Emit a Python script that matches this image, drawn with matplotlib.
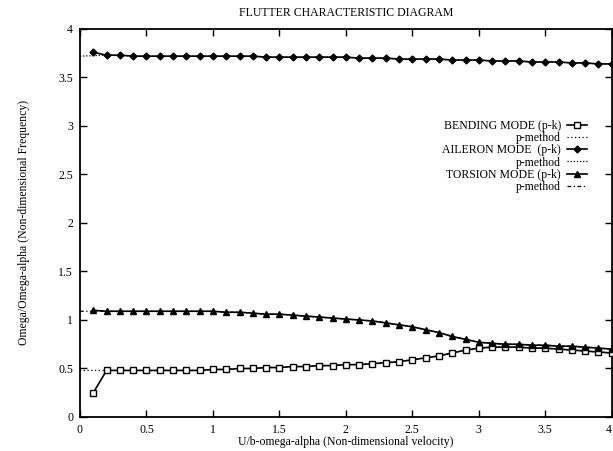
import matplotlib.pyplot as plt
from matplotlib.lines import Line2D

plt.rcParams['font.family'] = ['Liberation Serif', 'DejaVu Serif']

# velocidade adimensional U/(b*omega_alpha)
velocidade = [0.1, 0.2, 0.3, 0.4, 0.5, 0.6, 0.7, 0.8, 0.9, 1.0,
              1.1, 1.2, 1.3, 1.4, 1.5, 1.6, 1.7, 1.8, 1.9, 2.0,
              2.1, 2.2, 2.3, 2.4, 2.5, 2.6, 2.7, 2.8, 2.9, 3.0,
              3.1, 3.2, 3.3, 3.4, 3.5, 3.6, 3.7, 3.8, 3.9, 4.0]

# metodo p-k
flexao = [0.25, 0.48, 0.48, 0.48, 0.48, 0.48, 0.48, 0.48, 0.48, 0.49,
          0.49, 0.50, 0.50, 0.51, 0.51, 0.52, 0.52, 0.53, 0.53, 0.54,
          0.54, 0.55, 0.56, 0.57, 0.59, 0.61, 0.63, 0.66, 0.69, 0.71,
          0.72, 0.72, 0.72, 0.71, 0.71, 0.70, 0.69, 0.68, 0.67, 0.66]
aileron = [3.76, 3.73, 3.73, 3.72, 3.72, 3.72, 3.72, 3.72, 3.72, 3.72,
           3.72, 3.72, 3.72, 3.71, 3.71, 3.71, 3.71, 3.71, 3.71, 3.71,
           3.70, 3.70, 3.70, 3.69, 3.69, 3.69, 3.69, 3.68, 3.68, 3.68,
           3.67, 3.67, 3.67, 3.66, 3.66, 3.66, 3.65, 3.65, 3.64, 3.64]
torcao = [1.10, 1.09, 1.09, 1.09, 1.09, 1.09, 1.09, 1.09, 1.09, 1.09,
          1.08, 1.08, 1.07, 1.06, 1.06, 1.05, 1.04, 1.03, 1.02, 1.01,
          1.00, 0.99, 0.97, 0.95, 0.93, 0.90, 0.87, 0.83, 0.80, 0.77,
          0.76, 0.75, 0.75, 0.74, 0.74, 0.73, 0.73, 0.72, 0.71, 0.70]

# metodo p (valor em U=0, depois segue a curva p-k)
inicio_p = [0.48, 3.72, 1.09]

rotulos = ['BENDING MODE (p-k)', 'p-method', 'AILERON MODE  (p-k)', 'p-method',
           'TORSION MODE (p-k)', 'p-method']
marcas_eixo = [0, 0.5, 1, 1.5, 2, 2.5, 3, 3.5, 4]
textos_eixo = ['0', '0.5', '1', '1.5', '2', '2.5', '3', '3.5', '4']

fig = plt.figure(figsize=(6.13, 4.51), dpi=100)
ax = fig.add_axes([0.1305, 0.0754, 0.8675, 0.8603])

vel_p = [0.0] + velocidade[1:]
ax.plot(vel_p, [inicio_p[0]] + flexao[1:], color='black', ls=(0, (1, 2)), lw=0.9, zorder=1)
ax.plot(vel_p, [inicio_p[1]] + aileron[1:], color='black', ls=(0, (1, 1.5)), lw=0.9, zorder=1)
ax.plot(vel_p, [inicio_p[2]] + torcao[1:], color='black', ls=(0, (3, 2, 1, 2)), lw=0.9, zorder=1)

ax.plot(velocidade, flexao, color='black', lw=1.2, marker='s', ms=4.5,
        mfc='white', mec='black', mew=1.0, zorder=3)
ax.plot(velocidade, aileron, color='black', lw=1.2, marker='D', ms=3.5,
        mfc='black', mec='black', zorder=3)
ax.plot(velocidade, torcao, color='black', lw=1.2, marker='^', ms=4.5,
        mfc='black', mec='black', zorder=3)

# legenda no estilo gnuplot (texto a esquerda, amostra a direita)
handles = [
    Line2D([], [], color='black', lw=1.2, marker='s', ms=4.5, mfc='white', mec='black'),
    Line2D([], [], color='black', lw=0.9, ls=(0, (1, 2))),
    Line2D([], [], color='black', lw=1.2, marker='D', ms=3.5, mfc='black'),
    Line2D([], [], color='black', lw=0.9, ls=(0, (1, 1.5))),
    Line2D([], [], color='black', lw=1.2, marker='^', ms=4.5, mfc='black'),
    Line2D([], [], color='black', lw=0.9, ls=(0, (3, 2, 1, 2))),
]
ax.legend(handles, rotulos, loc='upper right', bbox_to_anchor=(0.964, 0.781),
          markerfirst=False, frameon=False, fontsize=8.5, handlelength=1.7,
          handletextpad=0.5, labelspacing=0.02, borderpad=0)

ax.set_xlim(0, 4)
ax.set_ylim(0, 4)
ax.set_xticks(marcas_eixo)
ax.set_xticklabels(textos_eixo)
ax.set_yticks(marcas_eixo)
ax.set_yticklabels(textos_eixo)
ax.get_xticklabels()[-1].set_horizontalalignment('right')
ax.tick_params(direction='in', top=True, right=True, length=5, width=1.0,
               labelsize=8.5, pad=5)
for lado in ax.spines.values():
    lado.set_linewidth(1.3)

ax.set_title('FLUTTER CHARACTERISTIC DIAGRAM', fontsize=8.5, pad=9)
ax.set_xlabel('U/b-omega-alpha (Non-dimensional velocity)', fontsize=8.5, labelpad=0)
ax.set_ylabel('Omega/Omega-alpha (Non-dimensional Frequency)', fontsize=8.5, labelpad=20)

fig.savefig('out.png', dpi=100)
